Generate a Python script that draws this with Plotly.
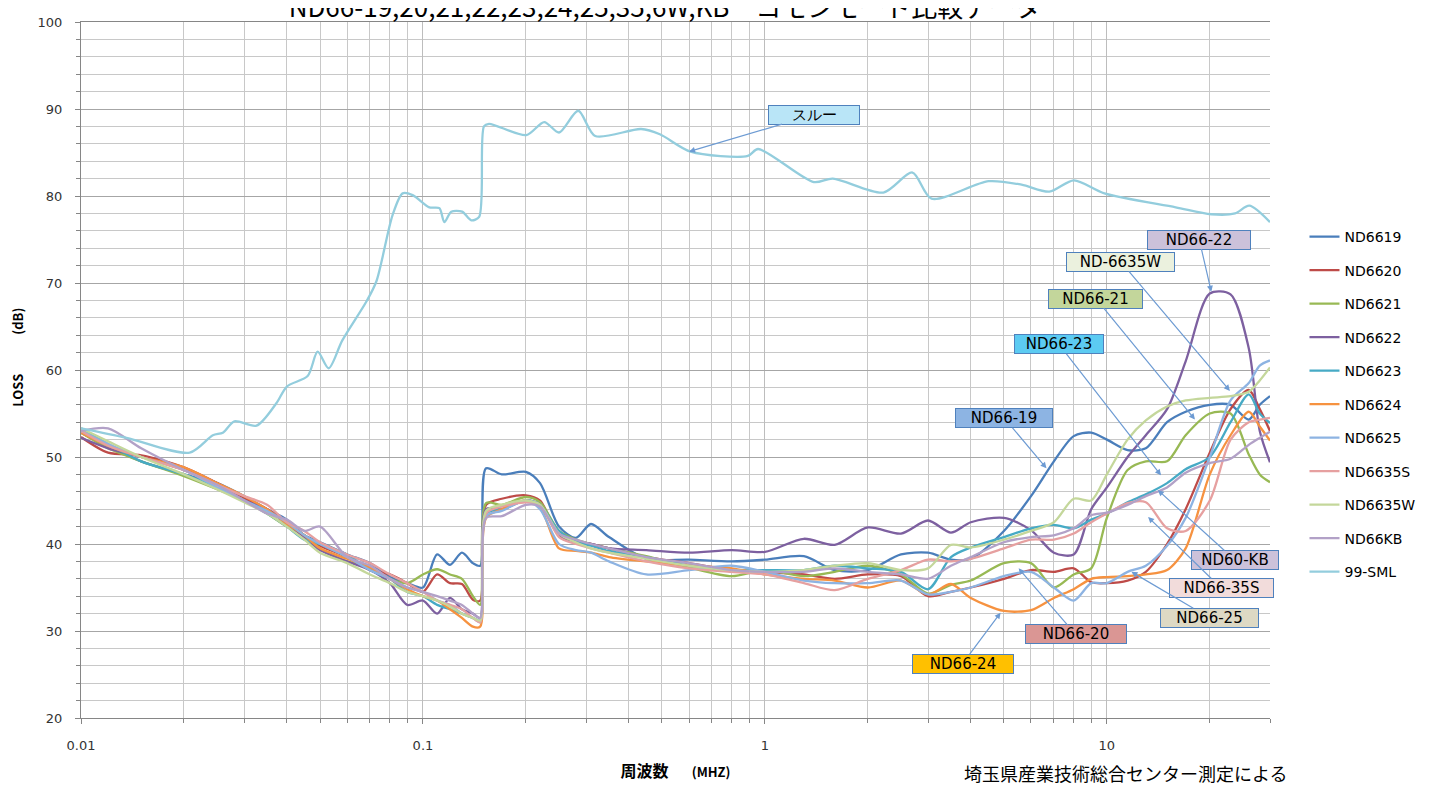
"""
コモンモード比較データ チャート
"""
import math
import plotly.graph_objects as go

# 周波数 (MHz) - ND66 series share one grid
FREQ = [0.01, 0.012, 0.015, 0.02, 0.025, 0.03, 0.035, 0.04, 0.045, 0.05,
        0.06, 0.07, 0.08, 0.09, 0.1, 0.11, 0.12, 0.13, 0.14, 0.147,
        0.153, 0.17, 0.2, 0.22, 0.25, 0.28, 0.31, 0.35, 0.45, 0.6, 0.8,
        1.0, 1.3, 1.6, 2.0, 2.5, 3.0, 3.5, 4.0, 5.0, 6.0,
        7.0, 8.0, 9.0, 10, 11.5, 13, 15, 17, 20, 23,
        26, 28, 30]

ND6619 = [52.8, 51.2, 49.5, 48.0, 47.0, 45.5, 44.0, 42.8, 41.0, 40.2,
          38.8, 37.8, 36.2, 35.5, 35.0, 38.8, 37.6, 39.0, 37.8, 37.5,
          48.7, 48.0, 48.3, 47.0, 42.0, 40.7, 42.3, 40.8, 38.3, 38.2, 38.0,
          38.2, 38.6, 37.0, 37.0, 38.8, 39.0, 38.2, 38.3, 41.5, 45.5,
          49.5, 52.4, 52.8, 52.0, 50.8, 51.0, 54.0, 55.2, 56.0, 56.0,
          54.3, 56.0, 57.0]
ND6620 = [52.3, 50.5, 50.2, 48.8, 47.0, 45.3, 44.0, 42.5, 41.0, 39.8,
          38.5, 37.0, 36.5, 35.5, 34.5, 36.5, 35.5, 35.4, 33.6, 33.5,
          44.5, 45.2, 45.6, 45.0, 41.0, 40.3, 40.0, 39.5, 38.5, 37.8, 37.0,
          36.8, 36.5, 36.0, 36.5, 36.3, 34.0, 34.5, 35.0, 36.0, 37.0,
          36.8, 37.2, 35.6, 35.5, 35.8, 36.8, 40.0, 44.0, 50.5, 55.5,
          57.7, 55.5, 53.0]
ND6621 = [52.8, 51.0, 49.5, 47.8, 46.3, 45.0, 43.5, 42.0, 41.0, 39.5,
          38.0, 37.3, 36.0, 35.5, 36.5, 37.1, 36.5, 36.0, 34.0, 33.0,
          44.7, 44.5, 45.4, 44.8, 41.5, 40.5, 40.0, 39.5, 38.6, 37.3, 36.3,
          37.0, 36.3, 36.8, 37.5, 36.5, 34.3, 35.3, 35.8, 37.8, 37.8,
          35.0, 36.5, 37.2, 43.0, 48.5, 49.5, 49.5, 52.5, 55.0, 55.0,
          50.3, 48.0, 47.1]
ND6622 = [52.2, 51.0, 50.0, 48.5, 47.0, 45.0, 44.0, 42.3, 40.8, 39.3,
          38.0, 37.0, 35.5, 33.0, 33.5, 32.0, 33.8, 32.5, 32.0, 31.5,
          44.0, 44.0, 45.0, 44.5, 41.0, 40.3, 40.0, 39.5, 39.3, 39.0, 39.3,
          39.1, 40.6, 39.9, 41.9, 41.2, 42.7, 41.3, 42.5, 43.0, 41.6,
          39.0, 38.8, 44.0, 46.5, 50.0, 52.5, 55.5, 61.0, 68.8, 68.7,
          62.5, 53.0, 49.4]
ND6623 = [53.3, 51.5, 49.5, 48.0, 46.5, 45.0, 43.5, 42.0, 40.5, 40.0,
          38.8, 37.0, 36.0, 34.5, 34.0, 33.0, 32.5, 32.0, 31.5, 31.2,
          43.5, 44.0, 45.0, 44.5, 41.5, 40.3, 39.8, 39.2, 38.5, 37.5, 37.0,
          37.0, 37.0, 37.5, 37.2, 36.8, 34.8, 38.5, 39.6, 40.8, 41.8,
          42.2, 41.8, 42.8, 43.5, 44.8, 45.7, 47.0, 48.6, 50.0, 54.0,
          57.2, 55.0, 53.9]
ND6624 = [52.8, 51.3, 50.0, 48.8, 47.0, 45.5, 44.0, 42.3, 41.0, 39.5,
          38.3, 37.3, 36.0, 34.8, 34.0, 33.5, 32.5, 31.5, 30.5, 30.5,
          43.0, 44.0, 45.0, 44.2, 39.5, 39.2, 39.0, 38.5, 38.0, 37.5, 37.2,
          36.5, 36.0, 35.8, 35.0, 35.8, 34.2, 35.4, 33.8, 32.3, 32.4,
          33.8, 34.8, 36.0, 36.2, 36.3, 36.5, 37.0, 39.5, 48.0, 52.5,
          55.2, 53.5, 51.9]
ND6625 = [53.0, 51.5, 50.0, 48.5, 46.5, 45.0, 43.8, 42.5, 41.0, 40.0,
          38.5, 37.0, 36.0, 35.0, 34.5, 33.5, 33.0, 32.0, 31.5, 31.0,
          43.2, 43.8, 45.0, 44.0, 40.0, 39.3, 39.0, 38.0, 36.5, 37.0, 37.5,
          36.8, 35.8, 35.5, 35.5, 35.8, 34.2, 34.5, 35.0, 36.3, 36.8,
          35.0, 33.5, 35.5, 35.5, 36.8, 37.5, 39.8, 43.0, 50.0, 56.5,
          58.5, 60.5, 61.1]
ND6635S = [53.0, 51.3, 50.0, 48.5, 46.8, 45.5, 44.5, 42.5, 41.5, 40.2,
           38.8, 37.8, 36.5, 35.5, 34.5, 33.5, 33.0, 32.5, 31.5, 31.0,
           43.5, 44.3, 44.8, 44.5, 40.8, 40.0, 39.5, 39.0, 38.0, 37.2, 36.8,
           36.5, 35.5, 34.7, 36.0, 37.0, 38.2, 38.0, 38.3, 39.5, 40.5,
           40.5, 41.2, 42.5, 43.5, 44.7, 44.8, 41.8, 41.5, 45.0, 52.0,
           54.0, 54.3, 54.5]
ND6635W = [53.3, 51.8, 50.0, 48.0, 46.3, 44.8, 43.5, 42.0, 40.5, 39.0,
           37.8, 36.5, 35.5, 34.5, 34.0, 33.5, 32.8, 32.0, 31.5, 31.2,
           43.8, 44.5, 45.0, 44.5, 41.2, 40.2, 39.5, 39.0, 38.3, 37.5, 37.0,
           36.8, 37.0, 37.5, 37.8, 37.0, 37.2, 39.9, 39.6, 40.5, 41.5,
           42.5, 45.2, 45.0, 48.0, 52.0, 54.2, 55.8, 56.5, 56.8, 57.0,
           57.5, 58.8, 60.3]
ND66KB = [53.0, 53.3, 51.0, 48.5, 46.8, 45.0, 43.5, 42.8, 41.5, 42.0,
          38.5, 37.5, 36.0, 35.0, 34.5, 34.0, 33.5, 33.0, 32.0, 31.5,
          43.0, 43.2, 44.5, 44.3, 41.2, 40.5, 40.0, 39.5, 38.5, 37.8, 37.0,
          36.8, 36.8, 37.2, 36.8, 36.5, 36.0, 37.5, 38.5, 40.2, 40.8,
          41.0, 41.8, 43.3, 43.6, 44.5, 45.5, 46.5, 48.2, 49.3, 49.8,
          51.4, 52.2, 52.9]

# スルー (99-SML)
SML_FREQ = [0.01, 0.0136, 0.0208, 0.0243, 0.026, 0.0281, 0.0326, 0.0373, 0.040, 0.046,
            0.0492, 0.053, 0.0581, 0.0684, 0.0731, 0.0815, 0.0872, 0.0933, 0.1044, 0.1117,
            0.1155, 0.121, 0.1302, 0.1385, 0.146, 0.1508, 0.156, 0.2005, 0.2263, 0.25,
            0.2845, 0.319, 0.4345, 0.493, 0.606, 0.891, 0.955, 1.39, 1.58, 2.22,
            2.7, 3.07, 4.51, 5.63, 6.79, 8.01, 9.84, 15.9, 20.2, 23.7,
            26.1, 30]
SML = [53.3, 52.2, 50.5, 52.5, 52.8, 54.1, 53.6, 56.2, 58.1, 59.3,
       62.1, 60.2, 63.4, 67.9, 70.2, 77.8, 80.3, 80.1, 78.7, 78.6,
       77.0, 78.2, 78.2, 77.2, 77.6, 88.0, 88.3, 87.0, 88.5, 87.3,
       89.8, 86.9, 87.7, 87.1, 85.1, 84.6, 85.4, 81.6, 82.0, 80.4,
       82.7, 79.7, 81.7, 81.3, 80.5, 81.8, 80.3, 78.7, 77.9, 78.0,
       78.9, 77.0]

SERIES_NAMES = ['ND6619', 'ND6620', 'ND6621', 'ND6622', 'ND6623', 'ND6624',
                'ND6625', 'ND6635S', 'ND6635W', 'ND66KB']
SERIES_VALUES = [ND6619, ND6620, ND6621, ND6622, ND6623, ND6624,
                 ND6625, ND6635S, ND6635W, ND66KB]
COLORS = ['#4a7ebb', '#be4b48', '#98b954', '#7d60a0', '#46aac5', '#f69240',
          '#8db3e2', '#e6a0a0', '#c4d79b', '#b2a1c7']

# 吹き出し: テキスト, 矢印先の周波数, 値
CALLOUT_TEXT = ['スルー', 'ND66-22', 'ND-6635W', 'ND66-21', 'ND66-23', 'ND66-19',
                'ND60-KB', 'ND66-35S', 'ND66-25', 'ND66-20', 'ND66-24']
CALLOUT_FREQ = [0.60, 20.2, 22.9, 18.1, 14.4, 6.66, 14.1, 13.2, 11.8, 5.52, 4.89]
CALLOUT_VAL = [85.1, 69.0, 57.6, 54.3, 47.9, 48.7, 46.2, 43.1, 36.8, 37.2, 32.1]

fig = go.Figure()

for name, vals, color in zip(SERIES_NAMES, SERIES_VALUES, COLORS):
    fig.add_trace(go.Scatter(
        x=FREQ, y=vals, name=name, mode='lines', legendgroup=name,
        line=dict(color=color, width=2.3, shape='spline', smoothing=0.8),
    ))

fig.add_trace(go.Scatter(
    x=SML_FREQ, y=SML, name='99-SML', mode='lines', legendgroup='99-SML',
    line=dict(color='#93cddd', width=2.3, shape='spline', smoothing=0.8),
))

# 吹き出しのスタイル (背景色, 幅, 矢印オフセット px)
box_styles = [
    ('#b9e5f7', 90, 125, -37),
    ('#ccc1da', 102, -12, -52),
    ('#ebf1de', 107, -109, -129),
    ('#c3d69b', 93, -99, -121),
    ('#5ccbf2', 88, -102, -131),
    ('#8db4e3', 96, -42, -50),
    ('#ccc1da', 86, 77, 70),
    ('#f2dcdb', 103, 73, 71),
    ('#ddd9c4', 97, 78, 46),
    ('#da9694', 100, 57, 66),
    ('#ffc000', 100, -38, 51),
]

annotations = []
for text, f, v, (bg, w, ax, ay) in zip(CALLOUT_TEXT, CALLOUT_FREQ, CALLOUT_VAL, box_styles):
    annotations.append(dict(
        x=math.log10(f), y=v, xref='x', yref='y', text=text,
        showarrow=True, ax=ax, ay=ay, arrowhead=2, arrowsize=1,
        arrowwidth=1.2, arrowcolor='#6d9bd3',
        bgcolor=bg, bordercolor='#4f81bd', borderwidth=1, borderpad=0,
        width=w, height=18,
        font=dict(family='DejaVu Sans', size=15, color='#000000'),
    ))

# page has an 8px body margin, so the figure is sized and offset to compensate
annotations.append(dict(
    x=(1125 - 81) / 1189, y=-0.079, xref='paper', yref='paper',
    xanchor='center', yanchor='middle',
    text='埼玉県産業技術総合センター測定による', showarrow=False,
    font=dict(family='Noto Sans CJK JP', size=18, color='#000000'),
))

# 縦軸タイトル
annotations.append(dict(
    x=-0.053, y=0.519, xref='paper', yref='paper',
    xanchor='center', yanchor='middle', textangle=-90,
    text='<b>LOSS　　　(dB)</b>', showarrow=False,
    font=dict(family='Noto Sans CJK JP', size=13, color='#000000'),
))

fig.update_layout(
    width=1436,
    height=779,
    margin=dict(l=73, r=174, t=7, b=69),
    paper_bgcolor='white',
    plot_bgcolor='white',
    title=dict(
        text='ND66-19,20,21,22,23,24,25,35,6W,KB　コモンモード比較データ',
        x=0.4575, xanchor='center', y=1.0, yanchor='middle', yref='container',
        font=dict(family='Noto Sans CJK JP', size=26, color='#000000'),
    ),
    xaxis=dict(
        type='log', range=[-2, math.log10(30)],
        tickmode='array', tickvals=[0.01, 0.1, 1, 10], ticktext=['0.01', '0.1', '1', '10'],
        showgrid=True, gridcolor='#bdbdbd', gridwidth=1.4,
        minor=dict(dtick='D1', showgrid=True, gridcolor='#c8c8c8', gridwidth=1.4,
                   ticks='outside', ticklen=4, tickcolor='#868686'),
        ticks='outside', ticklen=5, tickcolor='#868686',
        showline=True, linecolor='#868686', mirror=True,
        ticklabelstandoff=10, zeroline=False,
        tickfont=dict(family='DejaVu Sans', size=13, color='#333333'),
        title=dict(
            text="<b>周波数</b>　  <b><span style='font-size:13px'>(MHZ)</span></b>",
            font=dict(family='Noto Sans CJK JP', size=16, color='#000000'),
            standoff=14,
        ),
    ),
    yaxis=dict(
        range=[20, 100], dtick=10, tick0=0,
        showgrid=True, gridcolor='#a6a6a6', gridwidth=1.4,
        minor=dict(dtick=2, showgrid=True, gridcolor='#c8c8c8', gridwidth=1.4,
                   ticks='outside', ticklen=4, tickcolor='#868686'),
        ticks='outside', ticklen=5, tickcolor='#868686',
        showline=True, linecolor='#868686', zeroline=False,
        ticklabelstandoff=10, ticklabeloverflow='allow',
        tickfont=dict(family='DejaVu Sans', size=13, color='#333333'),
    ),
    legend=dict(
        x=1.029, y=0.714, xanchor='left', yanchor='top',
        font=dict(family='DejaVu Sans', size=14, color='#000000'),
        tracegroupgap=12.3, bgcolor='rgba(0,0,0,0)',
    ),
    annotations=annotations,
    shapes=[dict(type='line', xref='x', yref='paper', x0=0, x1=0, y0=0, y1=1,
                 line=dict(color='#8c8c8c', width=1.2), layer='below')],
)

fig.write_html("out.html")
